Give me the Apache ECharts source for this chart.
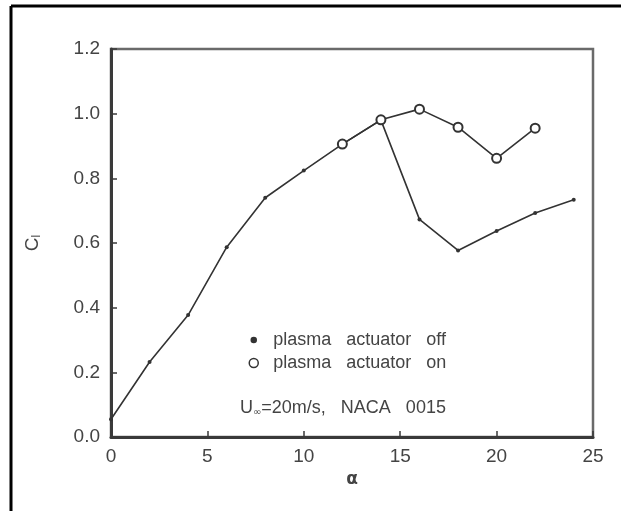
<!DOCTYPE html>
<html>
<head>
<meta charset="utf-8">
<style>html,body{margin:0;padding:0;background:#fff;}#chart{width:621px;height:511px;}</style>
<script src="https://cdn.jsdelivr.net/npm/echarts@6/dist/echarts.min.js"></script>
</head>
<body>
<div id="chart"></div>
<script>
// Data
const alphaOff = [0, 2, 4, 6, 8, 10, 12, 14, 16, 18, 20, 22, 24];
const clOff = [0.055, 0.232, 0.377, 0.587, 0.74, 0.824, 0.906, 0.98, 0.673, 0.577, 0.637, 0.693, 0.734];
const alphaOn = [12, 14, 16, 18, 20, 22];
const clOn = [0.906, 0.981, 1.014, 0.958, 0.862, 0.955];
const xTicks = [0, 5, 10, 15, 20, 25];
const yTicks = [0.0, 0.2, 0.4, 0.6, 0.8, 1.0, 1.2];
const seriesNames = ['plasma   actuator   off', 'plasma   actuator   on'];
const noteText = ['U', '\u221E', '=20m/s,   NACA   0015'];

const chart = echarts.init(document.getElementById('chart'), null, {renderer: 'canvas'});
const ink = '#3a3a3a';
const fam = 'Liberation Sans, Arial, sans-serif';
const labelFont = {fontFamily: fam, fontSize: 19, color: '#444'};

chart.setOption({
  animation: false,
  backgroundColor: '#fff',
  grid: {left: 111, right: 28, top: 49, bottom: 74, show: true, borderColor: '#6a6a6a', borderWidth: 2.5, backgroundColor: 'transparent'},
  xAxis: {
    type: 'value', min: xTicks[0], max: xTicks[xTicks.length - 1], interval: 5,
    name: '\u03B1', nameLocation: 'middle', nameGap: 34,
    nameTextStyle: {fontFamily: 'DejaVu Sans, sans-serif', fontSize: 17, color: '#444', fontWeight: 'bold'},
    axisLine: {show: true, onZero: false, lineStyle: {color: ink, width: 3}},
    axisTick: {show: true, inside: true, length: 6, lineStyle: {color: ink, width: 1.5}},
    axisLabel: Object.assign({margin: 10, formatter: v => String(v)}, labelFont),
    splitLine: {show: false}
  },
  yAxis: {
    type: 'value', min: yTicks[0], max: yTicks[yTicks.length - 1], interval: 0.2,
    name: '{c|C}{s|l}', nameLocation: 'middle', nameGap: 68, nameRotate: 90,
    nameTextStyle: {rich: {
      c: {fontFamily: fam, fontSize: 19, color: '#444'},
      s: {fontFamily: fam, fontSize: 12, color: '#444', padding: [9, 0, 0, 0]}
    }},
    axisLine: {show: true, onZero: false, lineStyle: {color: ink, width: 3}},
    axisTick: {show: true, inside: true, length: 6, lineStyle: {color: ink, width: 1.5}},
    axisLabel: Object.assign({margin: 11, formatter: v => v.toFixed(1)}, labelFont),
    splitLine: {show: false}
  },
  legend: {
    orient: 'vertical', left: 243, top: 326, itemGap: 5,
    itemWidth: 9, itemHeight: 9,
    formatter: n => '  ' + n,
    textStyle: {fontFamily: fam, fontSize: 18, color: '#444'},
    data: [
      {name: seriesNames[0], icon: 'circle', itemStyle: {color: '#333', borderColor: '#fff', borderWidth: 2.5}},
      {name: seriesNames[1], icon: 'circle', itemStyle: {color: '#fff', borderColor: '#333', borderWidth: 1.5}}
    ]
  },
  graphic: [
    {type: 'line', shape: {x1: 11, y1: 6, x2: 621, y2: 6}, style: {stroke: '#000', lineWidth: 3}},
    {type: 'line', shape: {x1: 11, y1: 6, x2: 11, y2: 511}, style: {stroke: '#000', lineWidth: 3}},
    {type: 'text', left: 240, top: 399, style: {
      text: '{a|' + noteText[0] + '}{s|' + noteText[1] + '}{a|' + noteText[2] + '}',
      rich: {
        a: {fontFamily: fam, fontSize: 18, fill: '#444'},
        s: {fontFamily: 'DejaVu Sans, sans-serif', fontSize: 10, fill: '#444', padding: [9, 0, 0, 0]}
      }
    }}
  ],
  series: [
    {
      name: seriesNames[0], type: 'line',
      data: alphaOff.map((a, i) => [a, clOff[i]]),
      symbol: 'circle', symbolSize: 4,
      lineStyle: {color: '#333', width: 1.6},
      itemStyle: {color: '#333'}
    },
    {
      name: seriesNames[1], type: 'line',
      data: alphaOn.map((a, i) => [a, clOn[i]]),
      symbol: 'emptyCircle', symbolSize: 9,
      lineStyle: {color: '#333', width: 1.6},
      itemStyle: {color: '#333', borderColor: '#333', borderWidth: 1.5}
    }
  ]
});
</script>
</body>
</html>
